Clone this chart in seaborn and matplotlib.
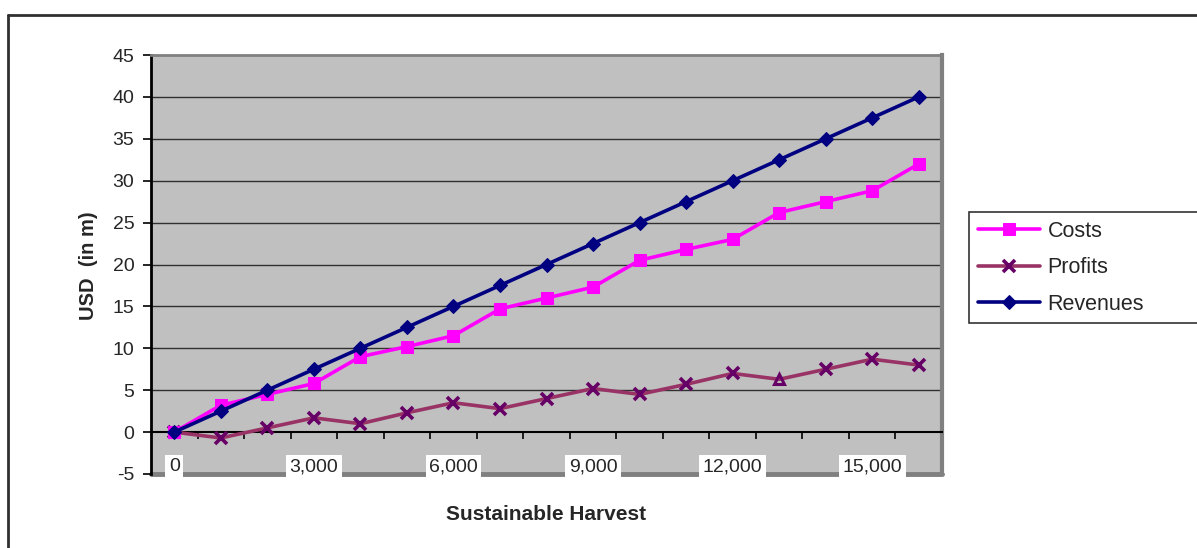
import matplotlib
matplotlib.use("Agg")
import matplotlib.pyplot as plt
from matplotlib.lines import Line2D
import seaborn as sns
import pandas as pd

# Sustainable harvest levels and the corresponding money figures (USD, millions)
harvest = [0, 1000, 2000, 3000, 4000, 5000, 6000, 7000, 8000,
           9000, 10000, 11000, 12000, 13000, 14000, 15000, 16000]
costs = [0, 3.2, 4.5, 5.8, 9.0, 10.2, 11.5, 14.7, 16.0,
         17.3, 20.5, 21.8, 23.0, 26.2, 27.5, 28.8, 32.0]
profits = [0, -0.7, 0.5, 1.7, 1.0, 2.3, 3.5, 2.8, 4.0,
           5.2, 4.5, 5.7, 7.0, 6.3, 7.5, 8.7, 8.0]
revenues = [0, 2.5, 5.0, 7.5, 10.0, 12.5, 15.0, 17.5, 20.0,
            22.5, 25.0, 27.5, 30.0, 32.5, 35.0, 37.5, 40.0]
x_tick_values = [0, 3000, 6000, 9000, 12000, 15000]
x_tick_labels = ["0", "3,000", "6,000", "9,000", "12,000", "15,000"]
y_ticks = [-5, 0, 5, 10, 15, 20, 25, 30, 35, 40, 45]

df = pd.DataFrame({"harvest": harvest, "Costs": costs,
                   "Profits": profits, "Revenues": revenues})

sns.set_style("white")
plt.rcParams["font.family"] = ["Liberation Sans", "DejaVu Sans"]

fig = plt.figure(figsize=(11.97, 5.48), dpi=100)
ax = fig.add_axes([151 / 1197, 1 - 474 / 548, (942 - 151) / 1197, (474 - 55) / 548])
ax.set_facecolor("#C0C0C0")

# horizontal gridlines
for v in y_ticks[2:-1]:
    ax.axhline(v, color="#303030", lw=1.0, zorder=1)

lw = 2.6
sns.lineplot(data=df, x="harvest", y="Costs", ax=ax, color="#FF00FF", lw=lw,
             marker="s", markersize=8.5, markeredgecolor="#FF00FF",
             markerfacecolor="#FF00FF", zorder=4, label="Costs")
profit_marks = [i for i in range(len(harvest)) if i != 13]
sns.lineplot(data=df, x="harvest", y="Profits", ax=ax, color="#993366", lw=lw,
             marker="x", markersize=8.5, markeredgewidth=2.6,
             markeredgecolor="#660066", markevery=profit_marks,
             zorder=3, label="Profits")
ax.plot(harvest[13], profits[13], marker="^", markersize=7, markerfacecolor="none",
        markeredgecolor="#660066", markeredgewidth=2.2, zorder=5)
sns.lineplot(data=df, x="harvest", y="Revenues", ax=ax, color="#000080", lw=lw,
             marker="D", markersize=7, markeredgecolor="#000080",
             markerfacecolor="#000080", zorder=5, label="Revenues")

ax.set_xlim(-500, 16500)
ax.set_ylim(-5, 45)

# spines: x axis sits on zero, plot area framed with a grey shadow
ax.spines["bottom"].set_position(("data", 0))
ax.spines["bottom"].set_color("#000000")
ax.spines["bottom"].set_linewidth(1.5)
ax.spines["left"].set_color("#000000")
ax.spines["left"].set_linewidth(2.0)
ax.spines["top"].set_color("#808080")
ax.spines["top"].set_linewidth(2.0)
ax.spines["right"].set_color("#808080")
ax.spines["right"].set_linewidth(3.0)
ax.axhline(-5, color="#808080", lw=3.5, zorder=0.5, clip_on=False)

ax.set_yticks(y_ticks)
ax.set_yticklabels([str(v) for v in y_ticks])
ax.tick_params(axis="y", which="major", direction="out", length=6, width=1.2,
               color="#000000", labelsize=14, pad=6, left=True)

ax.set_xticks(x_tick_values)
ax.set_xticklabels(x_tick_labels)
ax.set_xticks([h + 500 for h in harvest], minor=True)
ax.tick_params(axis="x", which="major", length=0, labelsize=14, pad=19, bottom=True)
ax.tick_params(axis="x", which="minor", direction="out", length=5, width=1.2,
               color="#000000", bottom=True)
for t in ax.get_xticklabels():
    t.set_bbox(dict(facecolor="white", edgecolor="none", pad=2.5))

ax.set_xlabel("")
ax.set_ylabel("")
fig.text(546 / 1197, 1 - 515 / 548, "Sustainable Harvest", ha="center", va="center",
         fontsize=15, fontweight="bold")
fig.text(88 / 1197, 1 - 266 / 548, "USD  (in m)", ha="center", va="center",
         rotation=90, fontsize=14.5, fontweight="bold")

handles, labels = ax.get_legend_handles_labels()
leg = ax.legend(handles[:3], labels[:3], loc="upper left", mode="expand", numpoints=1,
                bbox_to_anchor=(969 / 1197, 1 - 212 / 548, 240 / 1197, 0),
                bbox_transform=fig.transFigure,
                frameon=True, fancybox=False, fontsize=15.5, handlelength=2.9,
                handletextpad=0.35, borderpad=0.4, labelspacing=0.72,
                borderaxespad=0)
leg.get_frame().set_edgecolor("#000000")
leg.get_frame().set_linewidth(1.2)
leg.get_frame().set_facecolor("white")

# outer chart frame (left and top edges)
fig.add_artist(Line2D([8 / 1197, 8 / 1197], [0, 1 - 15 / 548], color="#303030", lw=2,
                      transform=fig.transFigure))
fig.add_artist(Line2D([8 / 1197, 1], [1 - 15 / 548, 1 - 15 / 548], color="#303030", lw=2,
                      transform=fig.transFigure))

fig.savefig("out.png", dpi=100)
